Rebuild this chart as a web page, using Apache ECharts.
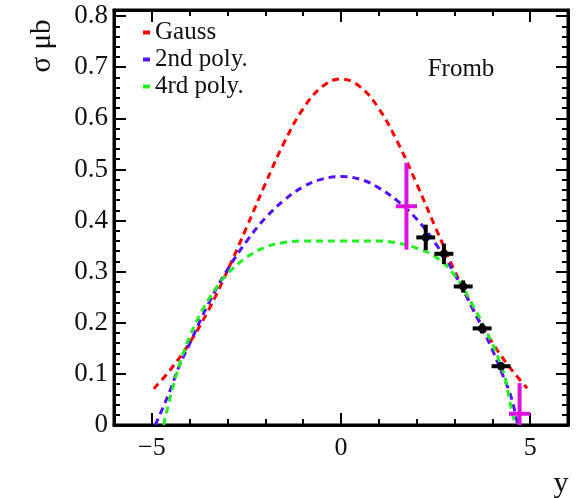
<!DOCTYPE html>
<html>
<head>
<meta charset="utf-8">
<script src="https://cdn.jsdelivr.net/npm/echarts@6/dist/echarts.min.js"></script>
<style>html,body{margin:0;padding:0;background:#fff}#c{width:577px;height:498px}</style>
</head>
<body>
<div id="c"></div>
<script>
// Gauss fit curve
const gaussX = [-4.95,-4.5,-4,-3.5,-3,-2.5,-2,-1.5,-1,-0.5,0,0.5,1,1.5,2,2.5,3,3.5,4,4.5,4.92];
const gaussY = [0.071,0.109,0.161,0.225,0.302,0.386,0.472,0.553,0.619,0.662,0.677,0.662,0.619,0.553,0.472,0.386,0.302,0.225,0.161,0.109,0.072];
// 2nd order polynomial fit
const poly2X = [-4.91,-4.7,-4.5,-4.3,-4,-3.5,-3,-2.5,-2,-1.5,-1,-0.5,0,0.5,1,1.5,2,2.5,3,3.5,4,4.3,4.5,4.67];
const poly2Y = [0,0.035,0.071,0.111,0.159,0.238,0.304,0.359,0.405,0.44,0.466,0.481,0.486,0.481,0.464,0.438,0.403,0.355,0.296,0.225,0.147,0.093,0.054,0];
// 4th order polynomial fit
const poly4X = [-4.69,-4.5,-4.25,-4,-3.75,-3.5,-3.25,-3,-2.5,-2,-1.5,-1,0,1,1.5,2,2.5,3,3.5,4,4.25,4.35,4.45,4.55,4.61];
const poly4Y = [0,0.058,0.123,0.173,0.213,0.246,0.273,0.296,0.328,0.348,0.357,0.36,0.36,0.36,0.356,0.346,0.329,0.293,0.232,0.159,0.112,0.089,0.05,0.016,0];
// Data points [y, sigma, xerr, yerr]
const blackX = [2.24,2.72,3.23,3.73,4.23];
const blackY = [0.367,0.335,0.271,0.189,0.115];
const blackXErr = [0.25,0.25,0.25,0.25,0.25];
const blackYErr = [0.025,0.02,0.012,0.01,0.008];
const magX = [1.73,4.72];
const magY = [0.428,0.022];
const magXErr = [0.28,0.28];
const magYErr = [0.085,0.06];
// Tick labels
const xTickLabels = [-5,0,5];
const yTickLabels = [0,0.1,0.2,0.3,0.4,0.5,0.6,0.7,0.8];

const FONT = 'Liberation Serif';
const zip = (a,b)=>a.map((v,i)=>[v,b[i]]);

function errRender(color, dot){
  return function(params, api){
    const x = api.value(0), y = api.value(1), ex = api.value(2), ey = api.value(3);
    const c = api.coord([x,y]);
    const l = api.coord([x-ex,y]), r = api.coord([x+ex,y]);
    const t = api.coord([x,y+ey]), b = api.coord([x,y-ey]);
    const st = {stroke: color, lineWidth: 4};
    const children = [
      {type:'line', shape:{x1:l[0],y1:l[1],x2:r[0],y2:r[1]}, style:st},
      {type:'line', shape:{x1:t[0],y1:t[1],x2:b[0],y2:b[1]}, style:st}
    ];
    if (dot) children.push({type:'circle', shape:{cx:c[0],cy:c[1],r:4}, style:{fill:color}});
    return {type:'group', children};
  };
}

const xBase = {type:'value', min:-6, max:6, interval:1, gridIndex:0};
const yBase = {type:'value', min:0, max:0.812, gridIndex:0};
const chart = echarts.init(document.getElementById('c'), null, {renderer:'canvas'});
chart.setOption({
  animation:false,
  backgroundColor:'#fff',
  grid:{left:114, right:9, top:10, bottom:73, show:true, borderColor:'#000', borderWidth:3, backgroundColor:'transparent'},
  legend:{
    orient:'vertical', left:143, top:20, itemWidth:7, itemHeight:4, itemGap:2, padding:0,
    icon:'rect',
    textStyle:{fontFamily:FONT, fontSize:25, lineHeight:25, color:'#111', padding:[0,0,0,0]},
    data:['Gauss','2nd poly.','4rd poly.']
  },
  xAxis:[
    Object.assign({}, xBase, {position:'bottom', axisLine:{show:true, onZero:false, lineStyle:{color:'#000', width:3}},
      axisTick:{show:true, inside:true, length:6, lineStyle:{color:'#000', width:2}},
      axisLabel:{show:true, customValues:xTickLabels, margin:10, fontFamily:FONT, fontSize:26, color:'#111',
        formatter:v=>v<0?'\u2212'+Math.abs(v):String(v)},
      splitLine:{show:false}}),
    Object.assign({}, xBase, {position:'bottom', axisLine:{show:false, onZero:false},
      axisTick:{show:true, inside:true, length:12, customValues:xTickLabels, lineStyle:{color:'#000', width:2}},
      axisLabel:{show:false}, splitLine:{show:false}}),
    Object.assign({}, xBase, {position:'top', axisLine:{show:true, onZero:false, lineStyle:{color:'#000', width:3}},
      axisTick:{show:true, inside:true, length:6, lineStyle:{color:'#000', width:2}},
      axisLabel:{show:false}, splitLine:{show:false}}),
    Object.assign({}, xBase, {position:'top', axisLine:{show:false, onZero:false},
      axisTick:{show:true, inside:true, length:12, customValues:xTickLabels, lineStyle:{color:'#000', width:2}},
      axisLabel:{show:false}, splitLine:{show:false}})
  ],
  yAxis:[
    Object.assign({}, yBase, {position:'left', interval:0.1, axisLine:{show:true, onZero:false, lineStyle:{color:'#000', width:3}},
      axisTick:{show:true, inside:true, length:12, lineStyle:{color:'#000', width:2}},
      axisLabel:{show:true, customValues:yTickLabels, margin:6, fontFamily:FONT, fontSize:27, color:'#111',
        formatter:v=>String(Math.round(v*10)/10)},
      splitLine:{show:false}}),
    Object.assign({}, yBase, {position:'left', interval:0.02, axisLine:{show:false, onZero:false},
      axisTick:{show:true, inside:true, length:6, lineStyle:{color:'#000', width:2}},
      axisLabel:{show:false}, splitLine:{show:false}}),
    Object.assign({}, yBase, {position:'right', interval:0.1, axisLine:{show:true, onZero:false, lineStyle:{color:'#000', width:3}},
      axisTick:{show:true, inside:true, length:12, lineStyle:{color:'#000', width:2}},
      axisLabel:{show:false}, splitLine:{show:false}}),
    Object.assign({}, yBase, {position:'right', interval:0.02, axisLine:{show:false, onZero:false},
      axisTick:{show:true, inside:true, length:6, lineStyle:{color:'#000', width:2}},
      axisLabel:{show:false}, splitLine:{show:false}})
  ],
  graphic:[
    {type:'text', x:42, y:46, rotation:Math.PI/2,
      style:{text:'\u03c3 \u03bcb', font:'29px "Liberation Serif"', fill:'#111', textAlign:'center', textVerticalAlign:'middle'}},
    {type:'text', x:561, y:484,
      style:{text:'y', font:'30px "Liberation Serif"', fill:'#111', textAlign:'center', textVerticalAlign:'middle'}},
    {type:'text', x:461, y:69,
      style:{text:'Fromb', font:'25px "Liberation Serif"', fill:'#111', textAlign:'center', textVerticalAlign:'middle'}}
  ],
  series:[
    {name:'Gauss', type:'line', xAxisIndex:0, yAxisIndex:0, data:zip(gaussX,gaussY), smooth:0.4, showSymbol:false, symbol:'none',
      itemStyle:{color:'#ff0000'}, lineStyle:{color:'#ff0000', width:3, type:[7,5]}, z:3},
    {name:'2nd poly.', type:'line', xAxisIndex:0, yAxisIndex:0, data:zip(poly2X,poly2Y), smooth:0.4, showSymbol:false, symbol:'none',
      itemStyle:{color:'#5511ff'}, lineStyle:{color:'#5511ff', width:3, type:[7,5]}, z:3},
    {name:'4rd poly.', type:'line', xAxisIndex:0, yAxisIndex:0, data:zip(poly4X,poly4Y), smooth:0.4, showSymbol:false, symbol:'none',
      itemStyle:{color:'#22ee22'}, lineStyle:{color:'#22ee22', width:3, type:[7,5]}, z:3},
    {name:'data', type:'custom', xAxisIndex:0, yAxisIndex:0, clip:true, renderItem:errRender('#000', true),
      data:blackX.map((x,i)=>[x,blackY[i],blackXErr[i],blackYErr[i]]), z:5},
    {name:'data2', type:'custom', xAxisIndex:0, yAxisIndex:0, clip:true, renderItem:errRender('#dd11dd', false),
      data:magX.map((x,i)=>[x,magY[i],magXErr[i],magYErr[i]]), z:6}
  ]
});
</script>
</body>
</html>
